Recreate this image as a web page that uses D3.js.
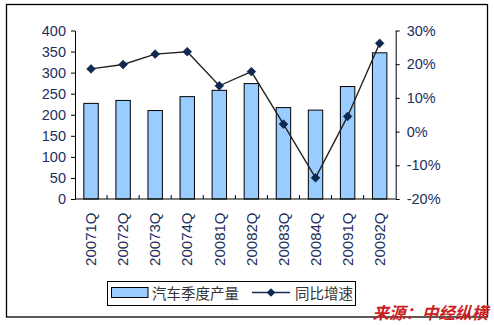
<!DOCTYPE html>
<html><head><meta charset="utf-8">
<script src="https://cdn.jsdelivr.net/npm/d3@7"></script>
<style>
html,body{margin:0;padding:0;background:#fff;}
svg{display:block;}
</style></head>
<body>
<script>
const categories = ["20071Q","20072Q","20073Q","20074Q","20081Q","20082Q","20083Q","20084Q","20091Q","20092Q"];
const production = [227, 234, 210, 243, 258, 274, 217, 211, 267, 347];
const growth = [18.6, 19.9, 23.0, 23.7, 13.6, 17.8, 2.2, -13.7, 4.5, 26.2];
const leftTicks = [0, 50, 100, 150, 200, 250, 300, 350, 400];
const rightTicks = [-20, -10, 0, 10, 20, 30];
const legendLabels = ["汽车季度产量", "同比增速"];
const sourceText = "来源：中经纵横";

const W = 494, H = 325;
const svg = d3.select("body").append("svg").attr("width", W).attr("height", H);

const m = {left: 75, right: 395.7, top: 30.5, bottom: 199};
const x = d3.scaleBand().domain(categories).range([m.left, m.right]).padding(0);
const yL = d3.scaleLinear().domain([0, 400]).range([m.bottom, m.top]);
const yR = d3.scaleLinear().domain([-20, 30]).range([m.bottom, m.top]);

const tickColor = "#1c2f5e";
const numFont = "'Liberation Sans', Arial, sans-serif";
const cjkFont = "'Noto Sans CJK SC', sans-serif";

// outer border
svg.append("rect").attr("x", 6.5).attr("y", 4.5).attr("width", 481).attr("height", 312.5)
  .attr("fill", "none").attr("stroke", "#000").attr("stroke-width", 1.3);

// bars
const bw = x.step() * 0.45;
svg.append("g").selectAll("rect").data(production).join("rect")
  .attr("x", (d, i) => x(categories[i]) + x.step() / 2 - bw / 2)
  .attr("y", d => yL(d))
  .attr("width", bw)
  .attr("height", d => yL(0) - yL(d))
  .attr("fill", "#99ccff").attr("stroke", "#000").attr("stroke-width", 1);

// left axis
const gL = svg.append("g").attr("transform", `translate(${m.left},0)`)
  .call(d3.axisLeft(yL).tickValues(leftTicks).tickSize(4).tickSizeOuter(0).tickPadding(5));
// right axis
const gR = svg.append("g").attr("transform", `translate(${m.right},0)`)
  .call(d3.axisRight(yR).tickValues(rightTicks).tickFormat(d => d + "%").tickSize(4).tickSizeOuter(0).tickPadding(7));
[gL, gR].forEach(g => {
  g.selectAll("text").attr("font-family", numFont).attr("font-size", 14.5).attr("fill", tickColor);
  g.selectAll("line").attr("stroke", "#000");
  g.select(".domain").attr("stroke", "#000");
});

// bottom axis: line + inward boundary ticks
const gB = svg.append("g").attr("transform", `translate(0,${m.bottom})`);
gB.append("line").attr("x1", m.left).attr("x2", m.right).attr("stroke", "#000");
gB.selectAll("line.t").data(categories.slice(1)).join("line").attr("class", "t")
  .attr("x1", d => x(d)).attr("x2", d => x(d)).attr("y1", 0).attr("y2", -4).attr("stroke", "#000");
gB.selectAll("text").data(categories).join("text")
  .attr("transform", d => `translate(${x(d) + x.step() / 2},13.5) rotate(-90)`)
  .attr("text-anchor", "end").attr("dy", "0.35em")
  .attr("font-family", numFont).attr("font-size", 15).attr("fill", tickColor)
  .text(d => d);

// line
const cx = (i) => x(categories[i]) + x.step() / 2;
svg.append("path").datum(growth)
  .attr("d", d3.line().x((d, i) => cx(i)).y(d => yR(d)))
  .attr("fill", "none").attr("stroke", "#222").attr("stroke-width", 1.4);
const diamond = d3.symbol(d3.symbolSquare, 38);
svg.append("g").selectAll("path").data(growth).join("path")
  .attr("d", diamond)
  .attr("transform", (d, i) => `translate(${cx(i)},${yR(d)}) rotate(45)`)
  .attr("fill", "#0e2a52").attr("stroke", "#0a1a3a").attr("stroke-width", 0.6);

// legend
const lg = svg.append("g");
lg.append("rect").attr("x", 107.5).attr("y", 281.5).attr("width", 248).attr("height", 24)
  .attr("fill", "#fff").attr("stroke", "#000").attr("stroke-width", 1);
lg.append("rect").attr("x", 111.5).attr("y", 287.5).attr("width", 36.5).attr("height", 10)
  .attr("fill", "#99ccff").attr("stroke", "#000").attr("stroke-width", 1);
lg.append("text").attr("x", 152).attr("y", 298.5).attr("font-family", cjkFont)
  .attr("font-size", 14.5).attr("fill", "#333").text(legendLabels[0]);
lg.append("line").attr("x1", 252).attr("x2", 290).attr("y1", 292.5).attr("y2", 292.5)
  .attr("stroke", "#1a2b50").attr("stroke-width", 1.4);
lg.append("path").attr("d", diamond).attr("transform", "translate(271,292.5) rotate(45)")
  .attr("fill", "#0e2a52");
lg.append("text").attr("x", 295).attr("y", 298.5).attr("font-family", cjkFont)
  .attr("font-size", 14.5).attr("fill", "#333").text(legendLabels[1]);

// source
svg.append("text").attr("x", 488).attr("y", 318.5).attr("text-anchor", "end")
  .attr("font-family", cjkFont).attr("font-size", 16.5).attr("font-weight", "bold")
  .attr("font-style", "italic").attr("fill", "#cc1f1f").text(sourceText);
</script>
</body></html>
